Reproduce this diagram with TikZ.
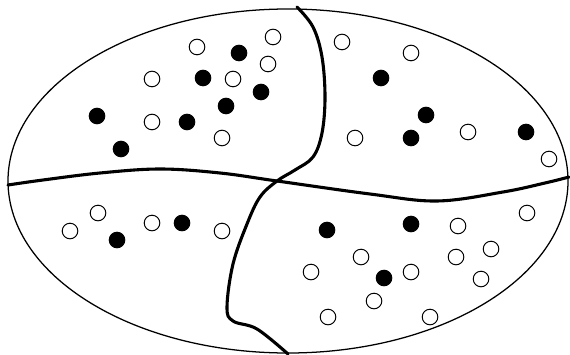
\documentclass[tikz,border=0pt]{standalone}
\usepackage{tikz}
\usetikzlibrary{positioning}

\begin{document}
\begin{tikzpicture}[x=0.025cm, y=-0.025cm,
    emptydot/.style={circle, draw, line width=0.7pt, fill=white, inner sep=0pt, minimum size=0.39cm},
    fulldot/.style={circle, draw, line width=0.7pt, fill=black, inner sep=0pt, minimum size=0.39cm},
    divide/.style={line width=2.2pt, line join=round, line cap=round}]
    \useasboundingbox (0,0) rectangle (570,354);
    % the whole set
    \draw[line width=0.9pt] (288,181) ellipse [x radius=280, y radius=172];
    % the two cuts
    \draw[divide] plot[smooth, tension=0.6] coordinates {(8,185) (43,180) (100,173) (160,169)
          (220,173) (277,181) (370,194) (437,201) (503,192) (545,183) (569,177)};
    \draw[divide] plot[smooth, tension=0.6] coordinates {(297,7) (313,27) (322,57) (325,97)
          (322,133) (313,157) (295,170) (277,181) (260,197) (247,224) (233,264) (227,307)
          (233,321) (257,329) (288,354)};
    % hollow points
    \foreach \p [count=\i] in {(197,47),(273,37),(268,64),(152,79),(233,79),(152,122),(222,138),
        (342,42),(411,53),(355,138),(468,132),(549,159),
        (70,231),(98,213),(152,223),(222,231),
        (458,226),(527,213),(361,257),(311,272),(411,272),(456,257),(491,249),(481,279),
        (374,301),(328,317),(430,317)}
      \node[emptydot] (o\i) at \p {};
    % full points
    \foreach \p [count=\i] in {(239,53),(203,78),(261,92),(226,106),(97,116),(187,122),(121,149),
        (381,78),(426,115),(411,138),(526,132),
        (117,240),(182,223),
        (327,230),(411,224),(384,278)}
      \node[fulldot] (f\i) at \p {};
\end{tikzpicture}
\end{document}
